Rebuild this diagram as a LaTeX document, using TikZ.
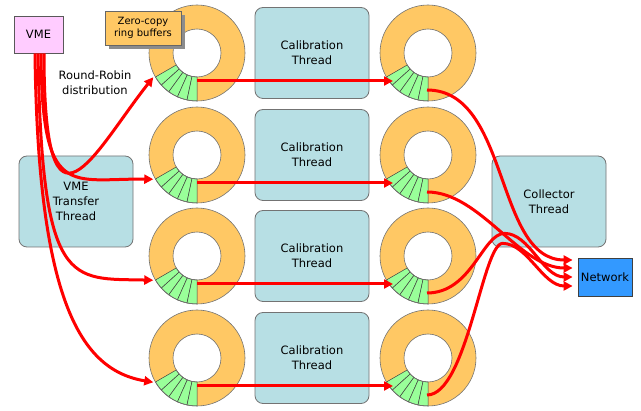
\documentclass[tikz,border=0pt]{standalone}
\usepackage{fontspec}
\setmainfont{DejaVu Sans}
\usetikzlibrary{arrows.meta,calc,shadows}
\definecolor{ringA}{RGB}{255,200,100}
\definecolor{ringB}{RGB}{153,255,153}
\definecolor{thrd}{RGB}{183,223,228}
\definecolor{vmeC}{RGB}{255,204,255}
\definecolor{netC}{RGB}{51,153,255}
\tikzset{
  boxtext/.style={font=\fontsize{11.5}{15}\selectfont,align=center,inner sep=0pt},
  thread/.style={boxtext,draw=black!55,fill=thrd,line width=0.8pt,rounded corners=8pt,minimum width=114pt,minimum height=91pt},
  flow/.style={red,line width=3pt,-{Triangle[length=9pt,width=9pt]}},
}

\begin{document}
\begin{tikzpicture}[x=1pt,y=1pt]
  \fill[white] (0,0) rectangle (641,-411);
  \useasboundingbox (0,0) rectangle (641,-411);

  \node[thread] (xfer) at (76,-201.5) {VME\\Transfer\\Thread};
  \node[thread] (coll) at (549,-201.5) {Collector\\Thread};
  \node[boxtext,draw=black!65,fill=vmeC,line width=0.8pt,minimum width=49pt,minimum height=37pt] (vme) at (38.5,-34.5) {VME};
  \node[boxtext,draw=black!75,fill=netC,line width=0.8pt,minimum width=54pt,minimum height=38pt] (net) at (605,-277) {Network};
  \node[boxtext] (rr) at (95,-83) {Round-Robin\\distribution};

  \foreach \i/\y in {1/53,2/155,3/256,4/358} {
    \node[thread] (cal\i) at (312,-\y) {Calibration\\Thread};
    \foreach \x/\s in {197/l,428/r} {
      \begin{scope}[shift={(\x,-\y)}]
        \fill[ringA,even odd rule] (0,0) circle[radius=48] (0,0) circle[radius=24];
        \foreach \a in {210,222,...,258}
          \draw[fill=ringB,draw=black!75,line width=0.5pt] (\a:24) -- (\a:48)
            arc[start angle=\a,delta angle=12,radius=48] -- ({\a+12}:24)
            arc[start angle=\a+12,delta angle=-12,radius=24] -- cycle;
        \draw[black!55,line width=0.6pt] (0,0) circle[radius=48] (0,0) circle[radius=24];
        \coordinate (\s\i) at (0,0);
      \end{scope}
    }
    \coordinate (lin\i) at ($(l\i)+(209:50)$);
    \coordinate (lout\i) at ($(l\i)+(0,-28)$);
    \coordinate (rin\i) at ($(r\i)+(-35,-28)$);
    \coordinate (rout\i) at ($(r\i)+(-1,-37)$);
    \draw[flow] (lout\i) -- (rin\i);
  }

  \node[boxtext,font=\fontsize{10}{12}\selectfont,draw=black!60,fill=ringA,line width=0.8pt,
    minimum width=76pt,minimum height=34pt,
    drop shadow={shadow xshift=4pt,shadow yshift=-4pt,fill=black!45,opacity=1}] (zc) at (143,-28) {Zero-copy\\ring buffers};

  \draw[flow] ([xshift=5.5pt]vme.south) .. controls +(0,-207) and +(-58,-73) .. (lin1);
  \draw[flow] ([xshift=2.5pt]vme.south) .. controls +(1,-147) and +(-83,1) .. (lin2);
  \draw[flow] ([xshift=-0.5pt]vme.south) .. controls +(4,-237) and +(-83,2) .. (lin3);
  \draw[flow] ([xshift=-3.5pt]vme.south) .. controls +(3,-247) and +(-73,12) .. (lin4);

  \coordinate (net1) at ([xshift=-5pt,yshift=17pt]net.west);
  \coordinate (net2) at ([xshift=-5pt,yshift=9pt]net.west);
  \coordinate (net3) at ([xshift=-5pt]net.west);
  \coordinate (net4) at ([xshift=-5pt,yshift=-9pt]net.west);
  \coordinate (top3) at ($(coll.south west)+(13,14)$);
  \coordinate (top4) at ($(coll.south west)+(11,4)$);

  \draw[flow] (rout1) .. controls +(83,0) and +(-78,0) .. (net1);
  \draw[flow] (rout2) .. controls +(53,0) and +(-53,0) .. (net2);
  \draw[flow] (rout3) .. controls +(45,0) and +(-22,0) .. (top3) .. controls +(25,0) and +(-30,0) .. (net3);
  \draw[flow] (rout4) .. controls +(40,0) and +(-20,0) .. (top4) .. controls +(25,0) and +(-30,0) .. (net4);
\end{tikzpicture}
\end{document}
